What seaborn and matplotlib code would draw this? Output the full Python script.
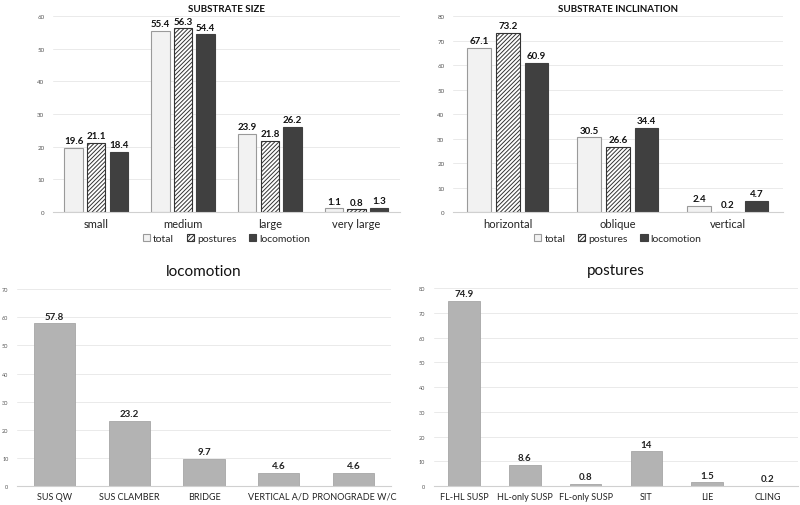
import pandas as pd
import seaborn as sns
import matplotlib.pyplot as plt

# data
size_cats = ["small", "medium", "large", "very large"]
size_total = [19.6, 55.4, 23.9, 1.1]
size_postures = [21.1, 56.3, 21.8, 0.8]
size_locomotion = [18.4, 54.4, 26.2, 1.3]

incl_cats = ["horizontal", "oblique", "vertical"]
incl_total = [67.1, 30.5, 2.4]
incl_postures = [73.2, 26.6, 0.2]
incl_locomotion = [60.9, 34.4, 4.7]

loco_cats = ["SUS QW", "SUS CLAMBER", "BRIDGE", "VERTICAL A/D", "PRONOGRADE W/C"]
loco_vals = [57.8, 23.2, 9.7, 4.6, 4.6]

post_cats = ["FL-HL SUSP", "HL-only SUSP", "FL-only SUSP", "SIT", "LIE", "CLING"]
post_vals = [74.9, 8.6, 0.8, 14, 1.5, 0.2]

groups = ["total", "postures", "locomotion"]

sns.set_style("white")
plt.rcParams['font.family'] = ['Lato', 'DejaVu Sans']
plt.rcParams['hatch.linewidth'] = 0.7

fig = plt.figure(figsize=(8, 5.06), dpi=100)


def style_axis(ax, ymax, step, tick_fs=4.5):
    ax.set_ylim(0, ymax)
    ax.set_yticks(range(0, ymax + 1, step))
    ax.tick_params(axis='y', labelsize=tick_fs, colors='#555555', length=0, pad=6)
    ax.tick_params(axis='x', length=0)
    ax.yaxis.grid(True, color='#e6e6e6', linewidth=0.6)
    ax.set_axisbelow(True)
    for s in ['top', 'right', 'left']:
        ax.spines[s].set_visible(False)
    ax.spines['bottom'].set_color('#d0d0d0')
    ax.spines['bottom'].set_linewidth(0.8)
    ax.set_xlabel('')
    ax.set_ylabel('')


def grouped(ax, cats, tot, pos, loc, title, ymax, step):
    df = pd.DataFrame({
        'cat': cats * 3,
        'group': [g for g in groups for _ in cats],
        'value': tot + pos + loc,
    })
    sns.barplot(data=df, x='cat', y='value', hue='group', hue_order=groups,
                order=cats, width=0.78, gap=0.18, legend=False, ax=ax,
                palette=['#f2f2f2', 'white', '#404040'])
    styles = [
        dict(fc='#f2f2f2', ec='#9a9a9a', hatch=None),
        dict(fc='white', ec='#333333', hatch='////////'),
        dict(fc='#404040', ec='#404040', hatch=None),
    ]
    for cont, st, vals in zip(ax.containers, styles, [tot, pos, loc]):
        for p in cont:
            p.set_facecolor(st['fc'])
            p.set_edgecolor(st['ec'])
            p.set_linewidth(0.8)
            if st['hatch']:
                p.set_hatch(st['hatch'])
        ax.bar_label(cont, labels=[f"{v:g}" for v in vals], padding=2,
                     fontsize=7, fontweight='bold', color='#111111')
    style_axis(ax, ymax, step)
    ax.tick_params(axis='x', labelsize=8, colors='#222222', pad=4)
    ax.set_title(title, fontsize=7, fontweight='bold', pad=4, color='#111111')
    ax.legend(handles=[c[0] for c in ax.containers], labels=groups,
              loc='upper center', bbox_to_anchor=(0.5, -0.09), ncol=3,
              frameon=False, fontsize=7.5, handlelength=0.7, handleheight=0.7,
              handletextpad=0.3, columnspacing=1.2, borderaxespad=0)


def single(ax, cats, vals, title, ymax, step, width):
    df = pd.DataFrame({'cat': cats, 'value': vals})
    sns.barplot(data=df, x='cat', y='value', order=cats, color='#b3b3b3',
                saturation=1, width=width, ax=ax)
    for p in ax.containers[0]:
        p.set_edgecolor('#a6a6a6')
        p.set_linewidth(0.6)
    ax.bar_label(ax.containers[0], labels=[f"{v:g}" for v in vals], padding=2,
                 fontsize=7, fontweight='bold', color='#222222')
    style_axis(ax, ymax, step, tick_fs=4)
    ax.tick_params(axis='x', labelsize=6.5, colors='#222222', pad=4)
    ax.set_title(title, fontsize=11, pad=10, color='#111111')


ax1 = fig.add_axes([0.066, 0.579, 0.434, 0.387])
grouped(ax1, size_cats, size_total, size_postures, size_locomotion,
        "SUBSTRATE SIZE", 60, 10)

ax2 = fig.add_axes([0.566, 0.579, 0.4125, 0.387])
grouped(ax2, incl_cats, incl_total, incl_postures, incl_locomotion,
        "SUBSTRATE INCLINATION", 80, 10)

ax3 = fig.add_axes([0.021, 0.0375, 0.468, 0.389])
single(ax3, loco_cats, loco_vals, "locomotion", 70, 10, 0.55)

ax4 = fig.add_axes([0.542, 0.0375, 0.456, 0.391])
single(ax4, post_cats, post_vals, "postures", 80, 10, 0.52)

fig.savefig("out.png", dpi=100)
